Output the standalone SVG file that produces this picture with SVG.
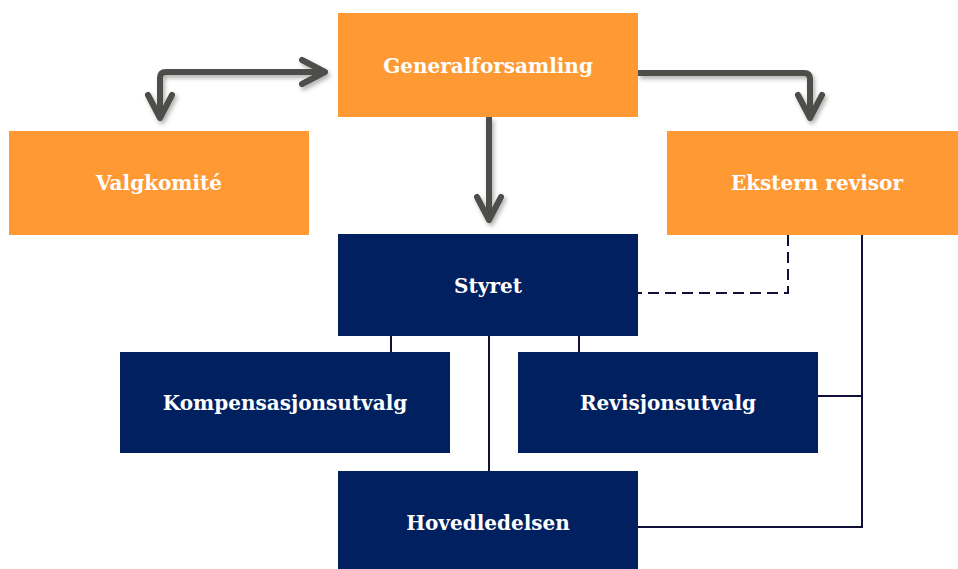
<svg xmlns="http://www.w3.org/2000/svg" width="958" height="569" viewBox="0 0 958 569">
<style>
.org{fill:#FF9933}
.nav{fill:#002060}
.lbl{font-family:"DejaVu Serif","Liberation Serif",serif;font-weight:bold;font-size:20px;fill:#ffffff;text-anchor:middle}
.arr{fill:none;stroke:#4D4D49;stroke-width:6;stroke-linejoin:round;stroke-linecap:butt}
.ln{fill:none;stroke:#10103A;stroke-width:2}
.dash{stroke-dasharray:11 6}
</style>
<defs>
<filter id="sh" x="-20%" y="-20%" width="140%" height="140%">
<feDropShadow dx="2" dy="3" stdDeviation="2" flood-color="#000" flood-opacity="0.3"/>
</filter>
<marker id="chev" markerUnits="userSpaceOnUse" viewBox="-28 -16 34 32" refX="-3" refY="0" markerWidth="34" markerHeight="32" orient="auto-start-reverse">
<path d="M-23,-12 L0,0 L-23,12" fill="none" stroke="#4D4D49" stroke-width="6" stroke-linecap="round" stroke-linejoin="round"/>
</marker>
</defs>
<rect width="958" height="569" fill="#ffffff"/>
<g id="connectors">
<g filter="url(#sh)">
<path class="arr" d="M160,115 V78 Q160,72 166,72 H322" marker-start="url(#chev)" marker-end="url(#chev)"/>
<path class="arr" d="M638,73 H804 Q810,73 810,79 V115" marker-end="url(#chev)"/>
<path class="arr" d="M489,117 V217" marker-end="url(#chev)"/>
</g>
<path class="ln" d="M391,336 V352"/>
<path class="ln" d="M579,336 V352"/>
<path class="ln" d="M489,336 V471"/>
<path class="ln dash" d="M788,235 V293 H638"/>
<path class="ln" d="M862,235 V527 H638"/>
<path class="ln" d="M818,396 H862"/>
</g>
<g id="generalforsamling"><rect class="org" x="338" y="13" width="300" height="104"/><text class="lbl" x="488" y="73">Generalforsamling</text></g>
<g id="valgkomite"><rect class="org" x="9" y="131" width="300" height="104"/><text class="lbl" x="159" y="190">Valgkomité</text></g>
<g id="ekstern-revisor"><rect class="org" x="667" y="131" width="300" height="104"/><text class="lbl" x="817" y="190">Ekstern revisor</text></g>
<g id="styret"><rect class="nav" x="338" y="234" width="300" height="102"/><text class="lbl" x="488" y="293">Styret</text></g>
<g id="kompensasjonsutvalg"><rect class="nav" x="120" y="352" width="330" height="101"/><text class="lbl" x="285" y="410">Kompensasjonsutvalg</text></g>
<g id="revisjonsutvalg"><rect class="nav" x="518" y="352" width="300" height="101"/><text class="lbl" x="668" y="410">Revisjonsutvalg</text></g>
<g id="hovedledelsen"><rect class="nav" x="338" y="471" width="300" height="102"/><text class="lbl" x="488" y="530">Hovedledelsen</text></g>
</svg>
